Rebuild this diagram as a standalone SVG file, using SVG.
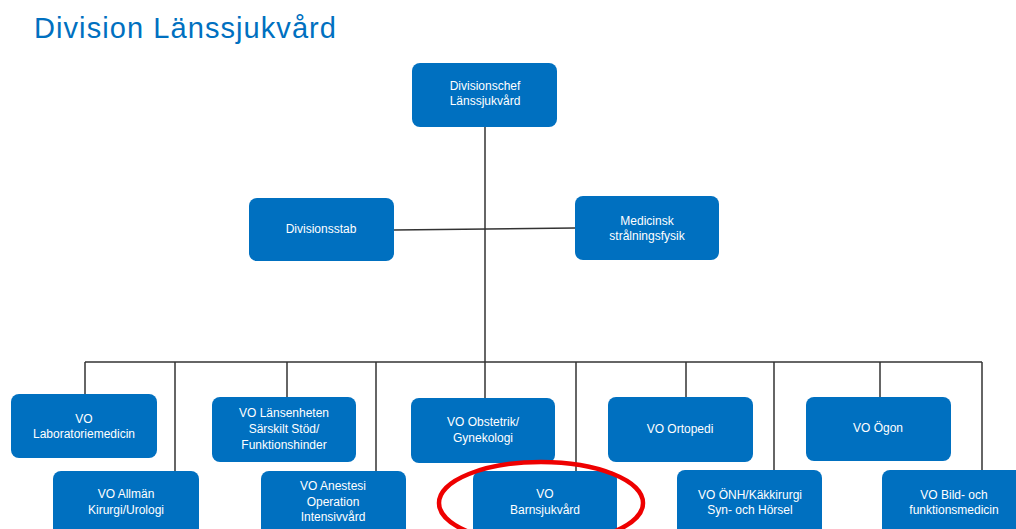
<svg xmlns="http://www.w3.org/2000/svg" width="1016" height="529" viewBox="0 0 1016 529">
<style>
.box{fill:#0070C0;}
.t{fill:#ffffff;font-family:"Liberation Sans",Arial,sans-serif;font-size:12px;text-anchor:middle;}
.c{stroke:#333333;stroke-width:1.5;fill:none;}
</style>
<rect width="1016" height="529" fill="#ffffff"/>
<text x="34" y="38" font-family="Liberation Sans, Arial, sans-serif" font-size="29" fill="#0070C0" textLength="302">Division Länssjukvård</text>
<g id="connectors">
<line class="c" x1="485" y1="127" x2="485" y2="398"/>
<polyline class="c" points="394,230 575,228"/>
<line class="c" x1="85" y1="362" x2="982" y2="362"/>
<line class="c" x1="85" y1="362" x2="85" y2="394"/>
<line class="c" x1="175" y1="362" x2="175" y2="471"/>
<line class="c" x1="287" y1="362" x2="287" y2="397"/>
<line class="c" x1="376" y1="362" x2="376" y2="471"/>
<line class="c" x1="576" y1="362" x2="576" y2="471"/>
<line class="c" x1="686" y1="362" x2="686" y2="397"/>
<line class="c" x1="774" y1="362" x2="774" y2="470"/>
<line class="c" x1="880" y1="362" x2="880" y2="397"/>
<line class="c" x1="982" y1="362" x2="982" y2="470"/>
</g>
<g id="divisionschef"><rect class="box" x="412" y="63" width="145" height="64" rx="8"/><text class="t" x="485" y="90">Divisionschef</text><text class="t" x="485" y="105">Länssjukvård</text></g>
<g id="divisionsstab"><rect class="box" x="249" y="198" width="145" height="63" rx="8"/><text class="t" x="321" y="233">Divisionsstab</text></g>
<g id="medicinsk"><rect class="box" x="575" y="196" width="144" height="64" rx="8"/><text class="t" x="647" y="225">Medicinsk</text><text class="t" x="647" y="240">strålningsfysik</text></g>
<g id="laboratoriemedicin"><rect class="box" x="11" y="394" width="146" height="64" rx="8"/><text class="t" x="84" y="423">VO</text><text class="t" x="84" y="438">Laboratoriemedicin</text></g>
<g id="lansenheten"><rect class="box" x="212" y="397" width="144" height="65" rx="8"/><text class="t" x="284" y="417">VO Länsenheten</text><text class="t" x="284" y="433">Särskilt Stöd/</text><text class="t" x="284" y="449">Funktionshinder</text></g>
<g id="obstetrik"><rect class="box" x="411" y="398" width="144" height="65" rx="8"/><text class="t" x="483" y="426">VO Obstetrik/</text><text class="t" x="483" y="442">Gynekologi</text></g>
<g id="ortopedi"><rect class="box" x="608" y="397" width="145" height="65" rx="8"/><text class="t" x="680" y="433">VO Ortopedi</text></g>
<g id="ogon"><rect class="box" x="806" y="397" width="145" height="64" rx="8"/><text class="t" x="878" y="432">VO Ögon</text></g>
<g id="allman"><rect class="box" x="53" y="471" width="146" height="66" rx="8"/><text class="t" x="126" y="498">VO Allmän</text><text class="t" x="126" y="514">Kirurgi/Urologi</text></g>
<g id="anestesi"><rect class="box" x="261" y="471" width="145" height="66" rx="8"/><text class="t" x="333" y="490">VO Anestesi</text><text class="t" x="333" y="506">Operation</text><text class="t" x="333" y="521">Intensivvård</text></g>
<g id="barnsjukvard"><rect class="box" x="473" y="471" width="144" height="66" rx="8"/><text class="t" x="545" y="498">VO</text><text class="t" x="545" y="514">Barnsjukvård</text></g>
<g id="onh"><rect class="box" x="677" y="470" width="145" height="67" rx="8"/><text class="t" x="750" y="499">VO ÖNH/Käkkirurgi</text><text class="t" x="750" y="514">Syn- och Hörsel</text></g>
<g id="bild"><rect class="box" x="882" y="470" width="145" height="67" rx="8"/><text class="t" x="954" y="499">VO Bild- och</text><text class="t" x="954" y="514">funktionsmedicin</text></g>
<ellipse cx="541" cy="503" rx="102" ry="41" fill="none" stroke="#EE0000" stroke-width="4.5"/>
</svg>
